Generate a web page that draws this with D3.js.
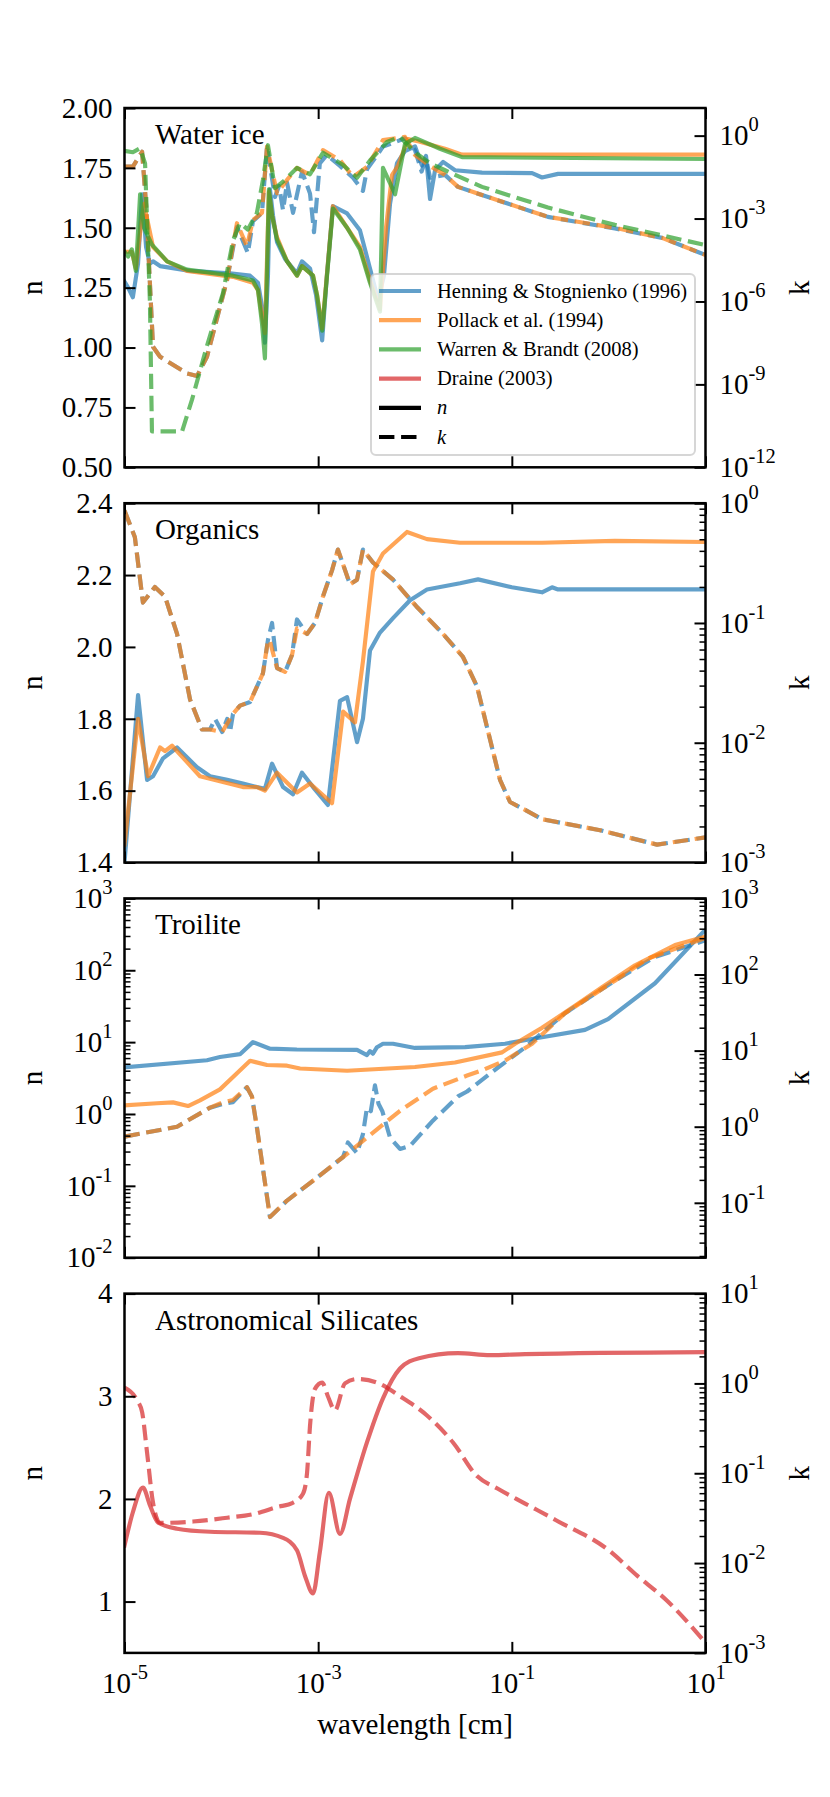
<!DOCTYPE html>
<html>
<head>
<meta charset="utf-8">
<script src="https://cdn.jsdelivr.net/npm/d3@7"></script>
<style>
body { margin: 0; background: #fff; }
svg { display: block; }
</style>
</head>
<body>
<div id="chart"></div>
<script>
// ---- data: [wavelength (cm), value] ----
var wlRange = [1e-5, 10];
var wlTicks = [1e-5, 1e-3, 1e-1, 10];

// Water ice
var iceNRange = [0.5, 2.0];
var iceNTicks = [0.5, 0.75, 1.0, 1.25, 1.5, 1.75, 2.0];
var iceKRange = [1e-12, 10];
var iceKTicks = [1e-12, 1e-9, 1e-6, 1e-3, 1];

var iceNHen = [[1e-5,1.275],[1.09e-5,1.25],[1.22e-5,1.21],[1.38e-5,1.35],[1.52e-5,1.64],[1.67e-5,1.42],[1.83e-5,1.35],[1.97e-5,1.36],[2.33e-5,1.34],[4.75e-5,1.32],[1.23e-4,1.31],[1.98e-4,1.30],[2.39e-4,1.27],[2.69e-4,1.15],[2.82e-4,1.02],[3.03e-4,1.30],[3.18e-4,1.66],[3.42e-4,1.55],[3.76e-4,1.44],[4.55e-4,1.37],[5.50e-4,1.33],[6.04e-4,1.31],[6.81e-4,1.36],[8.24e-4,1.33],[9.50e-4,1.22],[1.10e-3,1.03],[1.23e-3,1.30],[1.42e-3,1.59],[1.99e-3,1.56],[2.70e-3,1.49],[3.43e-3,1.33],[4.15e-3,1.20],[4.78e-3,1.30],[5.52e-3,1.60],[6.52e-3,1.77],[7.88e-3,1.82],[1.0e-2,1.84],[1.18e-2,1.76],[1.30e-2,1.80],[1.43e-2,1.62],[1.61e-2,1.74],[1.95e-2,1.775],[2.59e-2,1.74],[4.92e-2,1.73],[0.162,1.728],[0.205,1.71],[0.300,1.725],[10,1.725]];
var iceKHen = [[1e-5,0.076],[1.22e-5,0.076],[1.52e-5,0.26],[1.67e-5,3.2e-3],[1.97e-5,2.3e-8],[2.33e-5,1e-8],[4.42e-5,2.5e-9],[5.61e-5,2.0e-9],[7.11e-5,1e-8],[1.15e-4,6.3e-6],[1.45e-4,5e-4],[1.88e-4,5.6e-5],[2.12e-4,8e-4],[2.63e-4,1.6e-3],[2.96e-4,0.40],[3.58e-4,6e-3],[3.94e-4,0.015],[4.34e-4,2e-3],[4.77e-4,0.02],[5.50e-4,1.6e-3],[6.81e-4,0.05],[8.24e-4,8e-3],[9.06e-4,3.2e-4],[1.04e-3,0.1],[1.23e-3,0.2],[1.68e-3,0.08],[2.29e-3,0.03],[2.90e-3,0.01],[3.19e-3,0.06],[4.67e-3,0.4],[7.88e-3,0.8],[1.0e-2,0.3],[1.17e-2,0.05],[1.30e-2,0.15],[1.43e-2,0.03],[2.04e-2,0.038],[2.78e-2,0.014],[4.92e-2,7.1e-3],[0.236,1.15e-3],[1.16,4.4e-4],[3.56,2.0e-4],[10,4.8e-5]];
var iceNPol = [[1e-5,1.40],[1.19e-5,1.40],[1.31e-5,1.33],[1.52e-5,1.55],[1.59e-5,1.60],[1.97e-5,1.42],[2.75e-5,1.36],[4.42e-5,1.32],[1.32e-4,1.295],[2.12e-4,1.27],[2.39e-4,1.24],[2.63e-4,1.13],[2.82e-4,1.06],[3.10e-4,1.65],[3.34e-4,1.55],[3.76e-4,1.46],[4.77e-4,1.36],[6.04e-4,1.30],[6.81e-4,1.34],[8.85e-4,1.30],[9.73e-4,1.22],[1.10e-3,1.08],[1.42e-3,1.59],[1.99e-3,1.50],[2.70e-3,1.42],[3.43e-3,1.28],[4.35e-3,1.16],[5.02e-3,1.50],[5.79e-3,1.72],[6.68e-3,1.76],[8.47e-3,1.87],[1.10e-2,1.86],[2.04e-2,1.83],[3.06e-2,1.805],[10,1.805]];
var iceKPol = [[1e-5,0.076],[1.22e-5,0.076],[1.52e-5,0.26],[1.67e-5,3.2e-3],[1.97e-5,2.3e-8],[2.33e-5,1e-8],[4.42e-5,2.5e-9],[5.61e-5,2.0e-9],[7.11e-5,1e-8],[1.15e-4,6.3e-6],[1.45e-4,6.8e-4],[1.84e-4,1e-4],[2.12e-4,8.9e-4],[2.63e-4,1.6e-3],[2.96e-4,0.40],[3.76e-4,8.3e-3],[4.77e-4,0.025],[6.04e-4,0.068],[8.24e-4,0.038],[1.12e-3,0.30],[1.68e-3,0.13],[2.29e-3,0.032],[3.19e-3,0.074],[4.67e-3,0.69],[7.88e-3,0.9],[1.0e-2,0.2],[1.43e-2,0.08],[2.04e-2,0.038],[2.78e-2,0.014],[4.92e-2,7.1e-3],[0.236,1.15e-3],[1.16,4.6e-4],[3.56,2.0e-4],[10,4.8e-5]];
var iceNWar = [[1e-5,1.40],[1.09e-5,1.38],[1.19e-5,1.41],[1.31e-5,1.32],[1.45e-5,1.64],[1.59e-5,1.50],[1.92e-5,1.43],[2.75e-5,1.36],[4.42e-5,1.325],[1.32e-4,1.30],[2.12e-4,1.28],[2.39e-4,1.24],[2.63e-4,1.10],[2.82e-4,0.955],[3.10e-4,1.66],[3.34e-4,1.55],[3.76e-4,1.45],[4.77e-4,1.36],[6.04e-4,1.30],[6.81e-4,1.34],[8.85e-4,1.30],[9.73e-4,1.22],[1.10e-3,1.07],[1.42e-3,1.58],[1.99e-3,1.50],[2.70e-3,1.41],[3.43e-3,1.27],[4.35e-3,1.15],[4.67e-3,1.75],[6.22e-3,1.64],[7.88e-3,1.85],[1.0e-2,1.875],[1.81e-2,1.83],[3.06e-2,1.795],[10,1.787]];
var iceKWar = [[1e-5,0.28],[1.22e-5,0.25],[1.45e-5,0.35],[1.63e-5,0.1],[1.83e-5,1e-6],[1.92e-5,2e-11],[3.93e-5,2e-11],[4.98e-5,2.8e-10],[7.11e-5,2.5e-8],[1.04e-4,2e-6],[1.32e-4,1.6e-4],[1.56e-4,6.8e-4],[1.88e-4,4e-4],[2.33e-4,1.6e-3],[2.69e-4,0.025],[3.03e-4,0.45],[3.58e-4,0.0126],[4.55e-4,0.025],[6.04e-4,0.068],[8.24e-4,0.04],[1.12e-3,0.24],[1.81e-3,0.087],[2.52e-3,0.03],[3.43e-3,0.126],[5.14e-3,0.59],[7.0e-3,0.9],[1.0e-2,0.25],[1.43e-2,0.1],[2.04e-2,0.056],[4.92e-2,0.014],[0.236,2.5e-3],[1.16,5.9e-4],[10,1.1e-4]];

// Organics
var orgNRange = [1.4, 2.4];
var orgNTicks = [1.4, 1.6, 1.8, 2.0, 2.2, 2.4];
var orgKRange = [1e-3, 1];
var orgKTicks = [1e-3, 1e-2, 1e-1, 1];

var orgNHen = [[1e-5,1.40],[1.38e-5,1.866],[1.71e-5,1.63],[1.97e-5,1.64],[2.50e-5,1.69],[3.49e-5,1.72],[5.61e-5,1.665],[7.64e-5,1.64],[1.15e-4,1.63],[1.67e-4,1.62],[2.33e-4,1.61],[2.82e-4,1.605],[3.34e-4,1.675],[4.34e-4,1.61],[5.50e-4,1.59],[6.81e-4,1.65],[8.85e-4,1.61],[1.26e-3,1.56],[1.68e-3,1.85],[1.99e-3,1.86],[2.52e-3,1.735],[2.90e-3,1.80],[3.43e-3,1.99],[4.35e-3,2.04],[5.93e-3,2.08],[8.89e-3,2.13],[1.33e-2,2.16],[2.92e-2,2.177],[4.48e-2,2.188],[0.100,2.166],[0.205,2.152],[0.260,2.166],[0.300,2.16],[10,2.16]];
var orgKHen = [[1e-5,0.87],[1.28e-5,0.52],[1.55e-5,0.148],[2.06e-5,0.20],[2.62e-5,0.166],[3.49e-5,0.081],[4.75e-5,0.023],[6.31e-5,0.0129],[7.64e-5,0.0129],[8.61e-5,0.0158],[1.02e-4,0.0123],[1.15e-4,0.0158],[1.23e-4,0.0123],[1.32e-4,0.0174],[1.56e-4,0.0204],[1.98e-4,0.0219],[2.69e-4,0.038],[3.03e-4,0.072],[3.34e-4,0.10],[3.76e-4,0.042],[4.55e-4,0.039],[5.37e-4,0.054],[6.04e-4,0.107],[7.67e-4,0.081],[9.27e-4,0.10],[1.12e-3,0.166],[1.39e-3,0.275],[1.60e-3,0.41],[2.13e-3,0.21],[2.52e-3,0.23],[2.90e-3,0.41],[3.68e-3,0.32],[5.93e-3,0.23],[1.03e-2,0.138],[1.95e-2,0.081],[3.13e-2,0.052],[4.37e-2,0.0295],[5.54e-2,0.0135],[7.55e-2,4.9e-3],[9.58e-2,3.2e-3],[0.137,2.75e-3],[0.205,2.3e-3],[0.815,1.86e-3],[3.16,1.41e-3],[10,1.62e-3]];
var orgNPol = [[1e-5,1.45],[1.38e-5,1.80],[1.75e-5,1.64],[2.33e-5,1.72],[2.62e-5,1.71],[3.10e-5,1.725],[6.02e-5,1.64],[1.67e-4,1.61],[2.33e-4,1.61],[2.82e-4,1.60],[3.76e-4,1.65],[6.04e-4,1.595],[8.24e-4,1.62],[1.39e-3,1.565],[1.81e-3,1.82],[2.40e-3,1.79],[2.90e-3,1.96],[3.68e-3,2.21],[4.67e-3,2.26],[8.27e-3,2.32],[1.33e-2,2.30],[2.92e-2,2.29],[0.205,2.29],[1.16,2.295],[10,2.292]];
var orgKPol = [[1e-5,0.87],[1.28e-5,0.52],[1.55e-5,0.148],[2.06e-5,0.20],[2.62e-5,0.166],[3.49e-5,0.081],[4.75e-5,0.023],[6.31e-5,0.0129],[7.64e-5,0.0129],[1.02e-4,0.0123],[1.32e-4,0.0174],[1.56e-4,0.0204],[1.98e-4,0.0219],[2.69e-4,0.038],[3.03e-4,0.072],[3.18e-4,0.07],[3.76e-4,0.042],[4.55e-4,0.039],[5.37e-4,0.054],[6.04e-4,0.09],[7.67e-4,0.081],[9.27e-4,0.10],[1.12e-3,0.166],[1.39e-3,0.275],[1.60e-3,0.41],[2.13e-3,0.21],[2.52e-3,0.23],[2.90e-3,0.41],[3.68e-3,0.32],[5.93e-3,0.23],[1.03e-2,0.138],[1.95e-2,0.081],[3.13e-2,0.052],[4.37e-2,0.0295],[5.54e-2,0.0135],[7.55e-2,4.9e-3],[9.58e-2,3.2e-3],[0.137,2.75e-3],[0.205,2.3e-3],[0.815,1.86e-3],[3.16,1.41e-3],[10,1.62e-3]];

// Troilite
var troNRange = [1e-2, 1e3];
var troNTicks = [1e-2, 1e-1, 1, 10, 100, 1000];
var troKRange = [0.019, 1e3];
var troKTicks = [1e-1, 1, 10, 100, 1000];

var troNHen = [[1e-5,4.45],[7.11e-5,5.6],[9.69e-5,6.2],[1.56e-4,6.8],[2.12e-4,10.0],[3.18e-4,8.1],[6.02e-4,7.9],[2.52e-3,7.8],[3.19e-3,6.6],[3.43e-3,7.5],[3.68e-3,6.9],[4.05e-3,8.5],[4.67e-3,9.5],[5.93e-3,9.5],[1.0e-2,8.3],[3.29e-2,8.5],[8.51e-2,9.5],[0.205,11.7],[0.570,14.8],[0.986,20.9],[3.01,66],[9.44,340],[10,360]];
var troKHen = [[1e-5,0.74],[3.49e-5,1.0],[7.64e-5,1.78],[1.04e-4,2.0],[1.32e-4,2.1],[1.84e-4,3.3],[2.07e-4,2.5],[2.33e-4,0.98],[3.18e-4,0.065],[4.77e-4,0.107],[9.73e-4,0.214],[1.81e-3,0.40],[2.03e-3,0.62],[2.52e-3,0.45],[2.90e-3,0.8],[3.19e-3,1.78],[3.5e-3,1.6],[3.86e-3,3.5],[4.2e-3,2.0],[4.6e-3,1.6],[5.52e-3,0.72],[7.0e-3,0.51],[8.89e-3,0.56],[1.53e-2,1.2],[2.78e-2,2.5],[3.45e-2,2.9],[7.2e-2,6.0],[0.137,11],[0.354,31],[1.16,83],[3.01,170],[9.44,275],[10,282]];
var troNPol = [[1e-5,1.32],[2.17e-5,1.41],[3.17e-5,1.45],[4.53e-5,1.29],[6.02e-5,1.55],[9.69e-5,2.2],[1.45e-4,3.7],[1.98e-4,5.5],[2.96e-4,4.8],[4.77e-4,4.7],[6.5e-4,4.3],[1.99e-3,4.0],[1.0e-2,4.5],[2.59e-2,5.2],[7.93e-2,7.2],[0.108,9.5],[0.205,15.8],[0.449,32],[0.854,58],[1.87,117],[4.84,224],[9.44,288],[10,295]];
var troKPol = [[1e-5,0.74],[3.49e-5,1.0],[7.64e-5,1.78],[1.04e-4,2.09],[1.32e-4,2.24],[1.84e-4,3.3],[2.07e-4,2.5],[2.33e-4,0.98],[3.18e-4,0.065],[4.77e-4,0.107],[9.73e-4,0.214],[1.81e-3,0.40],[3.19e-3,0.72],[7.0e-3,1.62],[1.53e-2,3.16],[3.45e-2,4.7],[4.92e-2,5.5],[8.51e-2,7.4],[0.162,12.3],[0.354,31],[1.16,83],[2.55,162],[9.44,295],[10,302]];

// Astronomical silicates
var silNRange = [0.5, 4];
var silNTicks = [1, 2, 3, 4];
var silKRange = [1e-3, 10];
var silKTicks = [1e-3, 1e-2, 1e-1, 1, 10];

var silNDra = [[1e-5,1.545],[1.22e-5,1.87],[1.55e-5,2.11],[1.83e-5,1.94],[2.22e-5,1.77],[3.49e-5,1.71],[7.64e-5,1.68],[2.51e-4,1.67],[4.34e-4,1.62],[6.04e-4,1.50],[7.31e-4,1.25],[8.85e-4,1.08],[1.04e-3,1.48],[1.29e-3,2.06],[1.68e-3,1.66],[2.13e-3,2.00],[3.19e-3,2.55],[4.67e-3,2.98],[7.0e-3,3.27],[1.1e-2,3.37],[2.78e-2,3.42],[5.96e-2,3.40],[0.137,3.41],[10,3.43]];
var silKDra = [[1e-5,0.90],[1.35e-5,0.65],[1.52e-5,0.48],[1.71e-5,0.17],[1.97e-5,0.047],[2.33e-5,0.028],[5.10e-5,0.029],[1.15e-4,0.032],[2.12e-4,0.035],[3.76e-4,0.042],[5.50e-4,0.047],[6.97e-4,0.059],[7.67e-4,0.10],[8.24e-4,0.34],[9.27e-4,0.87],[1.10e-3,1.02],[1.26e-3,0.72],[1.49e-3,0.50],[1.89e-3,1.0],[2.52e-3,1.12],[4.05e-3,1.02],[7.0e-3,0.72],[1.33e-2,0.44],[2.47e-2,0.22],[4.37e-2,0.093],[7.03e-2,0.068],[0.137,0.046],[0.286,0.030],[1.01,0.0138],[1.87,7.6e-3],[4.01,3.8e-3],[10,1.3e-3]];

var legendLabels = ["Henning & Stognienko (1996)", "Pollack et al. (1994)", "Warren & Brandt (2008)", "Draine (2003)", "n", "k"];

// ---- layout ----
var width = 830, height = 1797;
var left = 124.5, right = 705.5;
var top0 = 108, panelH = 359.3, gap = 35.9;
var serif = '"Liberation Serif", "Times New Roman", Times, serif';
var fs = 29;
var colors = { hen: "#1f77b4", pol: "#ff7f0e", war: "#2ca02c", dra: "#d62728" };
var lw = 4.17, dash = "15.4,6.7";

var svg = d3.select("#chart").append("svg")
    .attr("width", width).attr("height", height)
    .style("font-family", serif);
svg.append("rect").attr("width", width).attr("height", height).attr("fill", "#fff");

var x = d3.scaleLog().domain(wlRange).range([left, right]);

var panels = [
  { title: "Water ice", nLog: false, nRange: iceNRange, nTicks: iceNTicks, nFmt: d3.format(".2f"),
    kRange: iceKRange, kTicks: iceKTicks, kMinor: false, curve: d3.curveLinear,
    series: [[iceNHen, "hen", false], [iceKHen, "hen", true], [iceNPol, "pol", false], [iceKPol, "pol", true], [iceNWar, "war", false], [iceKWar, "war", true]] },
  { title: "Organics", nLog: false, nRange: orgNRange, nTicks: orgNTicks, nFmt: d3.format(".1f"),
    kRange: orgKRange, kTicks: orgKTicks, kMinor: true, curve: d3.curveLinear,
    series: [[orgNHen, "hen", false], [orgKHen, "hen", true], [orgNPol, "pol", false], [orgKPol, "pol", true]] },
  { title: "Troilite", nLog: true, nRange: troNRange, nTicks: troNTicks, nFmt: null,
    kRange: troKRange, kTicks: troKTicks, kMinor: true, curve: d3.curveLinear,
    series: [[troNHen, "hen", false], [troKHen, "hen", true], [troNPol, "pol", false], [troKPol, "pol", true]] },
  { title: "Astronomical Silicates", nLog: false, nRange: silNRange, nTicks: silNTicks, nFmt: d3.format("d"),
    kRange: silKRange, kTicks: silKTicks, kMinor: true, curve: d3.curveMonotoneX,
    series: [[silNDra, "dra", false], [silKDra, "dra", true]] }
];

// 10^e labels with a raised exponent
function powLabels(sel) {
  sel.each(function(d) {
    var t = d3.select(this);
    var e = Math.round(Math.log10(d));
    t.text(null);
    t.append("tspan").text("10");
    t.append("tspan").attr("dy", -14).style("font-size", "20.5px").text(e);
  });
}

function axis(g, gen, scale, ticks, size, pad, fmt, sw) {
  var a = gen(scale).tickValues(ticks).tickSizeInner(-size).tickSizeOuter(0)
      .tickPadding(pad).tickFormat(fmt === "pow" ? function(d) { return d; } : (fmt || function() { return ""; }));
  var ag = g.append("g").call(a).attr("font-family", serif).attr("font-size", fs);
  ag.select(".domain").remove();
  ag.selectAll(".tick line").attr("stroke-width", sw);
  if (fmt === "pow") ag.selectAll(".tick text").call(powLabels);
  return ag;
}

function minors(scale) {
  return scale.ticks().filter(function(d) {
    var l = Math.log10(d);
    return Math.abs(l - Math.round(l)) > 1e-6;
  });
}

panels.forEach(function(p, i) {
  var top = top0 + i * (panelH + gap), bottom = top + panelH;
  var g = svg.append("g");
  var yN = (p.nLog ? d3.scaleLog() : d3.scaleLinear()).domain(p.nRange).range([bottom, top]);
  var yK = d3.scaleLog().domain(p.kRange).range([bottom, top]);

  var clipId = "clip" + i;
  svg.append("clipPath").attr("id", clipId).append("rect")
      .attr("x", left).attr("y", top).attr("width", right - left).attr("height", panelH);

  var lines = g.append("g").attr("clip-path", "url(#" + clipId + ")");
  p.series.forEach(function(s) {
    var yScale = s[2] ? yK : yN;
    var line = d3.line().x(function(d) { return x(d[0]); }).y(function(d) { return yScale(d[1]); }).curve(p.curve);
    lines.append("path")
        .datum(s[0])
        .attr("d", line)
        .attr("fill", "none")
        .attr("stroke", colors[s[1]])
        .attr("stroke-opacity", 0.7)
        .attr("stroke-width", lw)
        .attr("stroke-linejoin", "round")
        .attr("stroke-linecap", s[2] ? "butt" : "square")
        .attr("stroke-dasharray", s[2] ? dash : null);
  });

  // x ticks, top and bottom
  axis(g.append("g").attr("transform", "translate(0," + top + ")"), d3.axisTop, x, wlTicks, 11, 0, null, 2);
  axis(g.append("g").attr("transform", "translate(0," + bottom + ")"), d3.axisBottom, x, wlTicks, 11, 20,
      i === panels.length - 1 ? "pow" : null, 2);

  // n axis (left)
  var lg = g.append("g").attr("transform", "translate(" + left + ",0)");
  axis(lg, d3.axisLeft, yN, p.nTicks, 11, 12, p.nFmt || "pow", 2);
  if (p.nLog) axis(lg, d3.axisLeft, yN, minors(yN), 6, 12, null, 1.5);

  // k axis (right)
  var rg = g.append("g").attr("transform", "translate(" + right + ",0)");
  axis(rg, d3.axisRight, yK, p.kTicks, 11, 14, "pow", 2);
  if (p.kMinor) axis(rg, d3.axisRight, yK, minors(yK), 6, 14, null, 1.5);

  g.append("rect")
      .attr("x", left).attr("y", top).attr("width", right - left).attr("height", panelH)
      .attr("fill", "none").attr("stroke", "#000").attr("stroke-width", 2.5);

  g.append("text").attr("x", 155).attr("y", top + 36).attr("font-size", fs).text(p.title);

  g.append("text")
      .attr("transform", "translate(42," + (top + panelH / 2) + ") rotate(-90)")
      .attr("text-anchor", "middle").attr("font-size", fs).text("n");
  g.append("text")
      .attr("transform", "translate(809," + (top + panelH / 2) + ") rotate(-90)")
      .attr("text-anchor", "middle").attr("font-size", fs).text("k");

  if (i === 0) drawLegend(g);
  if (i === panels.length - 1) {
    g.append("text").attr("x", (left + right) / 2).attr("y", bottom + 81)
        .attr("text-anchor", "middle").attr("font-size", fs).text("wavelength [cm]");
  }
});

function drawLegend(g) {
  var bx = 371, by = 274, bw = 324, bh = 181;
  var lg = g.append("g");
  lg.append("rect").attr("x", bx).attr("y", by).attr("width", bw).attr("height", bh)
      .attr("rx", 5).attr("fill", "#fff").attr("fill-opacity", 0.8)
      .attr("stroke", "#cccccc").attr("stroke-opacity", 0.8).attr("stroke-width", 2);
  var handleColors = [colors.hen, colors.pol, colors.war, colors.dra, "#000", "#000"];
  legendLabels.forEach(function(lab, j) {
    var cy = by + 17 + j * 29.2;
    var isK = j === 5;
    lg.append("line").attr("x1", 379).attr("x2", 421).attr("y1", cy).attr("y2", cy)
        .attr("stroke", handleColors[j]).attr("stroke-opacity", j < 4 ? 0.7 : 1)
        .attr("stroke-width", lw).attr("stroke-dasharray", isK ? dash : null);
    lg.append("text").attr("x", 437).attr("y", cy + 6.5).attr("font-size", 20.5)
        .style("font-style", j >= 4 ? "italic" : null).text(lab);
  });
}
</script>
</body>
</html>
